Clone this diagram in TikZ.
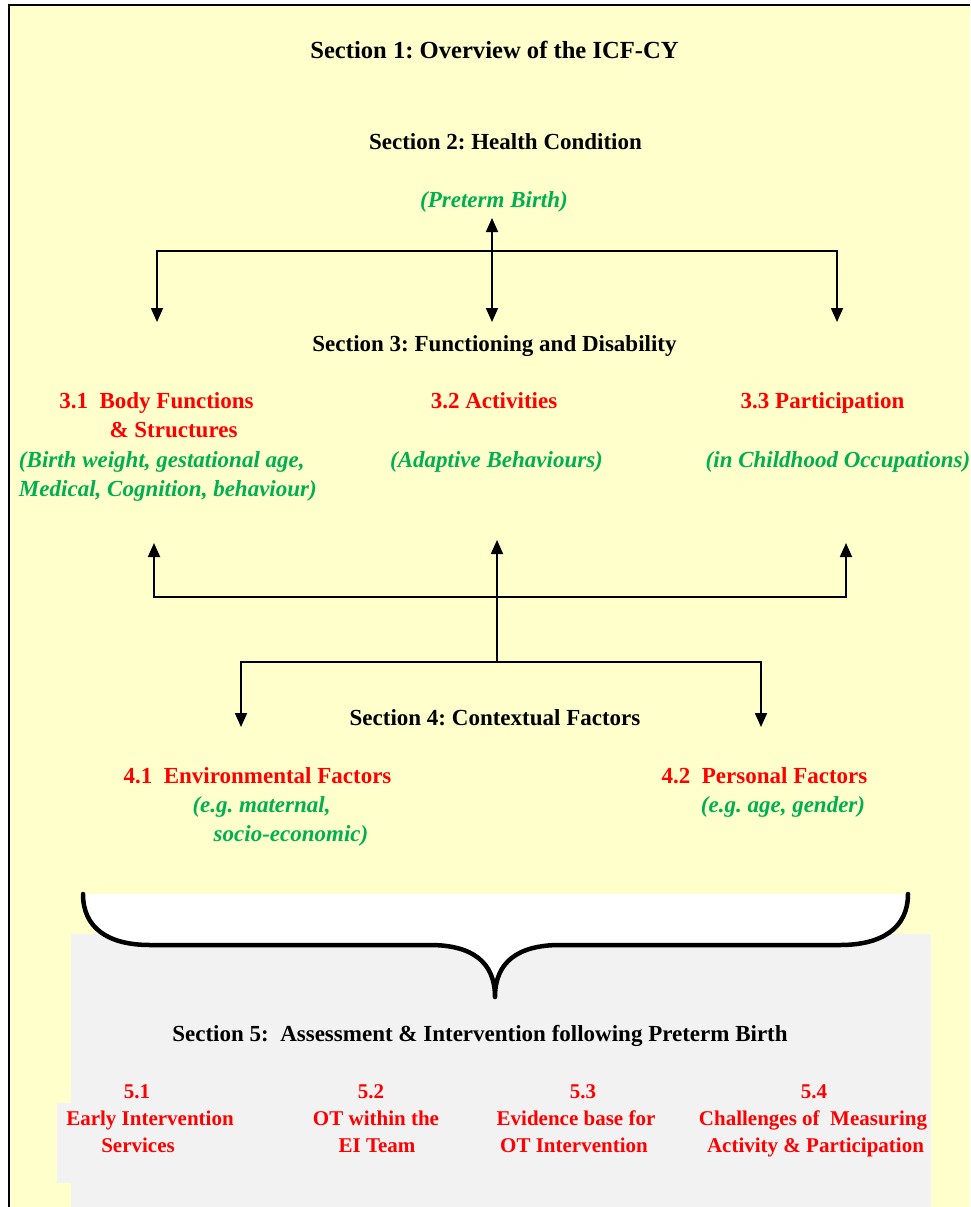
\documentclass[tikz,border=0pt]{standalone}
\usepackage{fontspec}
\setmainfont{Liberation Serif}
\usetikzlibrary{arrows.meta}
\definecolor{bgyellow}{HTML}{FFFFCC}
\definecolor{bggray}{HTML}{F2F2F2}
\definecolor{txtred}{HTML}{FF0000}
\definecolor{txtgreen}{HTML}{00B050}
\frenchspacing
\tikzset{
  every node/.style={inner sep=0pt, outer sep=0pt, anchor=base},
  sectitle/.style={font=\fontsize{23}{29}\selectfont\bfseries, text=black},
  bigtitle/.style={font=\fontsize{24.6}{29}\selectfont\bfseries, text=black},
  redtxt/.style={font=\fontsize{23}{29}\selectfont\bfseries, text=txtred},
  redsmall/.style={font=\fontsize{21}{27}\selectfont\bfseries, text=txtred},
  greentxt/.style={font=\fontsize{23}{29}\selectfont\bfseries\itshape, text=txtgreen},
  conn/.style={line width=1.8pt, black},
  tip/.style={-{Triangle[length=14pt,width=12pt]}},
  bothtip/.style={{Triangle[length=14pt,width=12pt]}-{Triangle[length=14pt,width=12pt]}},
  bracestyle/.style={line width=4.5pt, black, line cap=round, line join=round}
}
\begin{document}
\begin{tikzpicture}[x=1pt,y=-1pt]
\useasboundingbox (0,0) rectangle (970,1207);
% backgrounds
\fill[white] (0,0) rectangle (970,1207);
\fill[bgyellow] (9,5) rectangle (970,1207);
\fill[bggray] (71,934) rectangle (931,1207);
\fill[bggray] (57,1103) rectangle (71,1183);
\draw[line width=1.5pt] (9,1207) -- (9,5);
\draw[line width=2.2pt] (8.25,5) -- (970,5);

% Section titles
\node[bigtitle] (s1) at (494.5,59) {Section 1: Overview of the ICF-CY};
\node[sectitle] (s2) at (505.5,149) {Section 2: Health Condition};
\node[greentxt] (pb) at (494,207) {(Preterm Birth)};
\node[sectitle] (s3) at (494.5,351) {Section 3: Functioning and Disability};

% Section 3 items
\node[redtxt] (a31) at (156.5,408) {3.1\ \ Body Functions};
\node[redtxt] (b31) at (173.5,437) {\& Structures};
\node[greentxt, anchor=base west] (c31) at (19,467) {(Birth weight, gestational age,};
\node[greentxt, anchor=base west] (d31) at (19,496) {Medical, Cognition, behaviour)};
\node[redtxt] (a32) at (494,408) {3.2 Activities};
\node[greentxt] (c32) at (496.5,467) {(Adaptive Behaviours)};
\node[redtxt] (a33) at (822.5,408) {3.3 Participation};
\node[greentxt] (c33) at (838,467) {(in Childhood Occupations)};

% Section 4
\node[sectitle] (s4) at (495,725) {Section 4: Contextual Factors};
\node[redtxt] (a41) at (257.5,783) {4.1\ \ Environmental Factors};
\node[greentxt] (b41) at (261.5,812) {(e.g. maternal,};
\node[greentxt] (c41) at (291,841) {socio-economic)};
\node[redtxt] (a42) at (764.5,783) {4.2\ \ Personal Factors};
\node[greentxt] (b42) at (783,812) {(e.g. age, gender)};

% Top connectors
\coordinate (pbarr) at (492,218);
\coordinate (midtop) at (492,322);
\coordinate (lefttop) at (157,322);
\coordinate (righttop) at (837,322);
\coordinate (hbar) at (492,251);
\draw[conn, bothtip] (pbarr) -- (midtop);
\draw[conn, bothtip] (lefttop) -- (lefttop |- hbar) -- (righttop |- hbar) -- (righttop);

% Middle connectors (up to section 3)
\coordinate (up1) at (154,543);
\coordinate (up2) at (497,540);
\coordinate (up3) at (846,543);
\coordinate (hup) at (497,597);
\coordinate (hdown) at (497,662);
\coordinate (dn1) at (241,727);
\coordinate (dn2) at (761,727);
\draw[conn, bothtip] (up1) -- (up1 |- hup) -- (up3 |- hup) -- (up3);
\draw[conn, tip] (hdown) -- (up2);
\draw[conn, bothtip] (dn1) -- (dn1 |- hdown) -- (dn2 |- hdown) -- (dn2);

% Brace
\fill[white] (83,894) .. controls (83,928) and (108,945) .. (150,945) -- (430,945)
  .. controls (472,945) and (495,962) .. (495,997)
  .. controls (495,962) and (518,945) .. (560,945) -- (840,945)
  .. controls (882,945) and (908,928) .. (908,894) -- cycle;
\draw[bracestyle] (83,894) .. controls (83,928) and (108,945) .. (150,945) -- (430,945)
  .. controls (472,945) and (495,962) .. (495,997)
  .. controls (495,962) and (518,945) .. (560,945) -- (840,945)
  .. controls (882,945) and (908,928) .. (908,894);

% Section 5
\node[sectitle] (s5) at (480,1041) {Section 5:\ \ Assessment \& Intervention following Preterm Birth};
\node[redsmall] (a51) at (137,1098) {5.1};
\node[redsmall] (b51) at (150,1125) {Early Intervention};
\node[redsmall] (c51) at (138,1152) {Services};
\node[redsmall] (a52) at (371,1098) {5.2};
\node[redsmall] (b52) at (376,1125) {OT within the};
\node[redsmall] (c52) at (377,1152) {EI Team};
\node[redsmall] (a53) at (583,1098) {5.3};
\node[redsmall] (b53) at (576,1125) {Evidence base for};
\node[redsmall] (c53) at (574,1152) {OT Intervention};
\node[redsmall] (a54) at (814,1098) {5.4};
\node[redsmall] (b54) at (813,1125) {Challenges of\ \ Measuring};
\node[redsmall] (c54) at (815.5,1152) {Activity \& Participation};
\end{tikzpicture}
\end{document}
